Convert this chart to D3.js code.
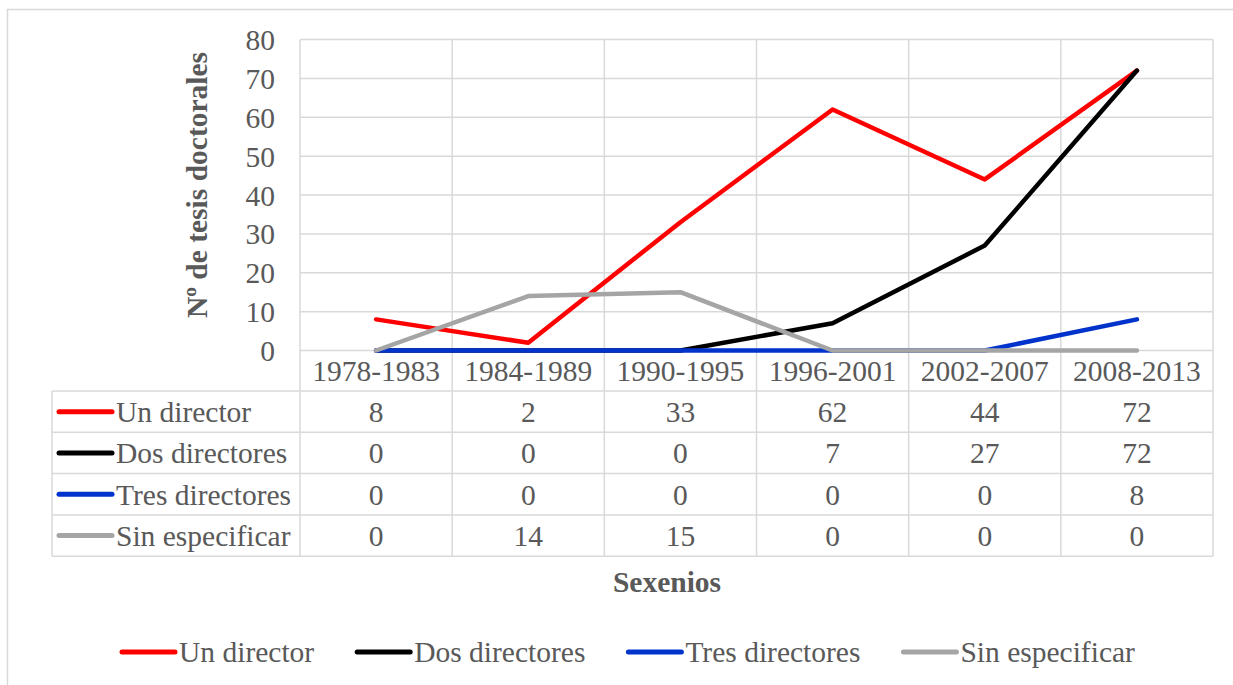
<!DOCTYPE html>
<html>
<head>
<meta charset="utf-8">
<script src="https://cdn.jsdelivr.net/npm/d3@7"></script>
<style>
  html, body { margin: 0; padding: 0; background: #fff; }
  svg { display: block; }
  text { font-family: "Liberation Serif", "Times New Roman", serif; fill: #595959; }
</style>
</head>
<body>
<svg id="chart" width="1233" height="685"></svg>
<script>
const categories = ["1978-1983", "1984-1989", "1990-1995", "1996-2001", "2002-2007", "2008-2013"];
const seriesNames = ["Un director", "Dos directores", "Tres directores", "Sin especificar"];
const unDirector = [8, 2, 33, 62, 44, 72];
const dosDirectores = [0, 0, 0, 7, 27, 72];
const tresDirectores = [0, 0, 0, 0, 0, 8];
const sinEspecificar = [0, 14, 15, 0, 0, 0];
const yTicks = [0, 10, 20, 30, 40, 50, 60, 70, 80];
const colors = ["#FF0000", "#000000", "#0033CC", "#A5A5A5"];
const yTitle = "Nº de tesis doctorales";
const xTitle = "Sexenios";

const series = [unDirector, dosDirectores, tresDirectores, sinEspecificar].map((v, i) => ({
  name: seriesNames[i], values: v, color: colors[i]
}));

const svg = d3.select("#chart");
const gridColor = "#D9D9D9";
const fontSize = 29.5;

const L = 300, R = 1213, T = 39.5, B = 350.5;
const tableLeft = 52;
const rowH = 41.3;
const headerBottom = B + 40.5;
const tableBottom = headerBottom + rowH * 4;

const x = d3.scaleBand().domain(categories).range([L, R]);
const y = d3.scaleLinear().domain([0, 80]).range([B, T]);
const cx = c => x(c) + x.bandwidth() / 2;

// outer frame
svg.append("rect").attr("x", 7.5).attr("y", 9.5).attr("width", 1240).attr("height", 700)
  .attr("fill", "none").attr("stroke", gridColor).attr("stroke-width", 1.5);

// horizontal grid
svg.append("g").selectAll("line").data(yTicks).join("line")
  .attr("x1", L).attr("x2", R).attr("y1", d => y(d)).attr("y2", d => y(d))
  .attr("stroke", gridColor).attr("stroke-width", 1.5);

// vertical grid (through plot and table)
const bounds = categories.map(c => x(c)).concat([R]);
svg.append("g").selectAll("line").data(bounds).join("line")
  .attr("x1", d => d).attr("x2", d => d).attr("y1", T).attr("y2", tableBottom)
  .attr("stroke", gridColor).attr("stroke-width", 1.5);

// table horizontal lines
const rowLines = d3.range(5).map(i => headerBottom + i * rowH);
svg.append("g").selectAll("line").data(rowLines).join("line")
  .attr("x1", tableLeft).attr("x2", R).attr("y1", d => d).attr("y2", d => d)
  .attr("stroke", gridColor).attr("stroke-width", 1.5);
svg.append("line").attr("x1", tableLeft).attr("x2", tableLeft)
  .attr("y1", headerBottom).attr("y2", tableBottom)
  .attr("stroke", gridColor).attr("stroke-width", 1.5);

// y axis labels
const yAxis = d3.axisLeft(y).tickValues(yTicks).tickSize(0).tickPadding(0);
const ga = svg.append("g").attr("transform", `translate(${275},0)`).call(yAxis);
ga.select(".domain").remove();
ga.selectAll("text").attr("font-size", fontSize).attr("font-family", "Liberation Serif")
  .attr("fill", "#595959").attr("dy", "0.34em");

// category labels
svg.append("g").selectAll("text").data(categories).join("text")
  .attr("x", d => cx(d)).attr("y", (B + headerBottom) / 2).attr("dy", "0.35em")
  .attr("text-anchor", "middle").attr("font-size", fontSize).text(d => d);

// lines (series order: later series drawn on top)
const line = d3.line().x((d, i) => cx(categories[i])).y(d => y(d));
svg.append("g").selectAll("path").data(series).join("path")
  .attr("d", d => line(d.values)).attr("fill", "none")
  .attr("stroke", d => d.color).attr("stroke-width", 4.5)
  .attr("stroke-linejoin", "round").attr("stroke-linecap", "round");

// table rows
series.forEach((s, r) => {
  const cy = headerBottom + rowH * r + rowH / 2;
  svg.append("line").attr("x1", 59).attr("x2", 112).attr("y1", cy).attr("y2", cy)
    .attr("stroke", s.color).attr("stroke-width", 5).attr("stroke-linecap", "round");
  svg.append("text").attr("x", 116).attr("y", cy).attr("dy", "0.35em")
    .attr("font-size", fontSize).text(s.name);
  svg.append("g").selectAll("text").data(s.values).join("text")
    .attr("x", (d, i) => cx(categories[i])).attr("y", cy).attr("dy", "0.35em")
    .attr("text-anchor", "middle").attr("font-size", fontSize).text(d => d);
});

// axis titles
svg.append("text").attr("transform", `translate(197,185) rotate(-90)`)
  .attr("text-anchor", "middle").attr("dy", "0.35em")
  .attr("font-size", fontSize).attr("font-weight", "bold").text(yTitle);
svg.append("text").attr("x", 667).attr("y", 582).attr("dy", "0.35em")
  .attr("text-anchor", "middle").attr("font-size", fontSize).attr("font-weight", "bold").text(xTitle);

// bottom legend
const legendY = 652;
const lg = svg.append("g");
let lx = 122;
series.forEach(s => {
  lg.append("line").attr("x1", lx).attr("x2", lx + 53).attr("y1", legendY).attr("y2", legendY)
    .attr("stroke", s.color).attr("stroke-width", 5).attr("stroke-linecap", "round");
  const t = lg.append("text").attr("x", lx + 57).attr("y", legendY).attr("dy", "0.35em")
    .attr("font-size", fontSize).text(s.name);
  lx += 57 + t.node().getComputedTextLength() + 43;
});
</script>
</body>
</html>
